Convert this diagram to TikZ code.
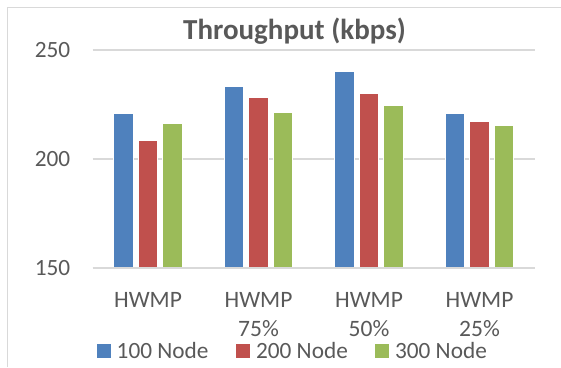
\documentclass[tikz,border=0pt]{standalone}
\usepackage{fontspec}
\setmainfont{Carlito}
\definecolor{txtgray}{HTML}{595959}
\definecolor{gridgray}{HTML}{D9D9D9}
\definecolor{framegray}{HTML}{D9D9D9}
\definecolor{sblue}{HTML}{4F81BD}
\definecolor{sred}{HTML}{C0504D}
\definecolor{sgreen}{HTML}{9BBB59}
\tikzset{
  bar/.style={draw=white, line width=0.6pt},
  gridline/.style={draw=gridgray, line width=1.1pt},
  ticklabel/.style={text=txtgray, font=\fontsize{23.3}{23.3}\selectfont, anchor=east, inner sep=0pt},
  catlabel/.style={text=txtgray, font=\fontsize{23.5}{23.5}\selectfont, inner sep=0pt, align=center},
  legtext/.style={text=txtgray, font=\fontsize{23.3}{23.3}\selectfont, anchor=west, inner sep=0pt},
  legkey/.style={minimum size=14pt, inner sep=0pt, anchor=west},
  titletext/.style={text=txtgray, font=\fontsize{29}{29}\selectfont\bfseries, inner sep=0pt}
}
% value -> vertical position (pixel rows counted from the top)
\newcommand{\vy}[1]{367-(268-(#1-150)*2.18)}
\newcommand{\drawbar}[3]{% centre x, value, colour
  \fill[#3] ({#1-9.75},{367-268}) rectangle ({#1+9.75},{\vy{#2}});
  \draw[bar] ({#1-9.75},{367-268}) -- ({#1-9.75},{\vy{#2}}) -- ({#1+9.75},{\vy{#2}}) -- ({#1+9.75},{367-268});
}
\begin{document}
\begin{tikzpicture}[x=1pt,y=1pt]
\useasboundingbox (0,0) rectangle (561,367);
% outer frame, open at right and bottom
\draw[framegray, line width=1pt] (7.5,0) -- (7.5,359.5) -- (561,359.5);

% title
\node[titletext] (title) at (294.5,336) {Throughput (kbps)};

% gridlines and tick labels
\foreach \v/\n in {250/g250,200/g200,150/g150}{
  \draw[gridline] (92.7,{\vy{\v}}) -- (535,{\vy{\v}});
  \node[ticklabel] (\n) at (70.5,{\vy{\v}}) {\v};
}

% bars: blue, red, green in each group
\foreach \c/\a/\b/\d in {148/221/208.5/216.5, 258.5/233.2/228.4/221.4, 369/240/230.1/224.5, 479.5/221.1/217.4/215.6}{
  \drawbar{\c-24.5}{\a}{sblue}
  \drawbar{\c}{\b}{sred}
  \drawbar{\c+24.5}{\d}{sgreen}
}
% redraw the base gridline over the bar feet
\draw[gridline] (92.7,{\vy{150}}) -- (535,{\vy{150}});

% category labels
\node[catlabel] (c1) at (148,67) {HWMP};
\node[catlabel] (c2) at (258.5,67) {HWMP};
\node[catlabel] (c2b) at (258.5,38) {75\%};
\node[catlabel] (c3) at (369,67) {HWMP};
\node[catlabel] (c3b) at (369,38) {50\%};
\node[catlabel] (c4) at (479.5,67) {HWMP};
\node[catlabel] (c4b) at (479.5,38) {25\%};

% legend
\node[legkey, fill=sblue] (k1) at (96.7,16.2) {};
\node[legtext] (l1) at (116.5,16.2) {100 Node};
\node[legkey, fill=sred] (k2) at (236,16.2) {};
\node[legtext] (l2) at (255.8,16.2) {200 Node};
\node[legkey, fill=sgreen] (k3) at (375,16.2) {};
\node[legtext] (l3) at (394.8,16.2) {300 Node};
\end{tikzpicture}
\end{document}
